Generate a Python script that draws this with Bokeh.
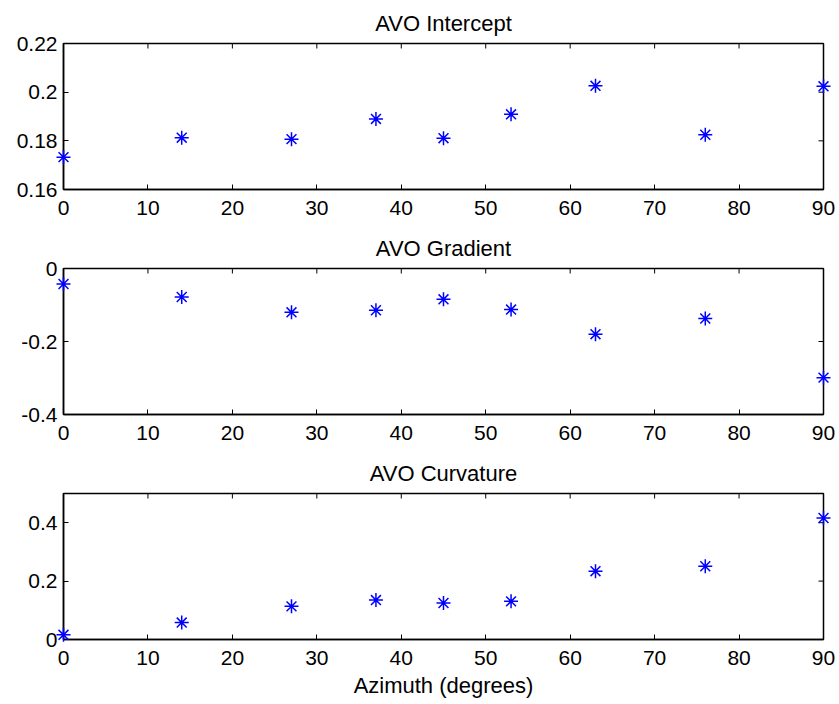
import math

from bokeh.plotting import figure
from bokeh.layouts import column
from bokeh.models import LinearAxis, FixedTicker, Range1d, CustomJSTickFormatter
from bokeh.embed import file_html
from bokeh.resources import INLINE

# Azimuthal AVO attributes
azimuth = [0, 14, 27, 37, 45, 53, 63, 76, 90]
intercept = [0.1733, 0.1813, 0.1807, 0.1890, 0.1811, 0.1909, 0.2026, 0.1825, 0.2024]
gradient = [-0.0425, -0.078, -0.120, -0.1145, -0.0845, -0.1126, -0.180, -0.137, -0.299]
curvature = [0.016, 0.058, 0.1135, 0.135, 0.125, 0.1306, 0.234, 0.251, 0.416]

x_ticks = [0, 10, 20, 30, 40, 50, 60, 70, 80, 90]
intercept_ticks = [0.16, 0.18, 0.2, 0.22]
gradient_ticks = [-0.4, -0.2, 0]
curvature_ticks = [0, 0.2, 0.4]

X0, X1 = 0, 90
FONT = "Liberation Sans"
TICK_SIZE = "21px"
TEXT_SIZE = "22px"


def style_axis(ax):
    ax.axis_line_color = "black"
    ax.axis_line_width = 1.5
    ax.major_tick_in = 5
    ax.major_tick_out = 0
    ax.minor_tick_in = 0
    ax.minor_tick_out = 0
    ax.major_tick_line_color = "black"
    ax.major_tick_line_width = 1
    ax.formatter = CustomJSTickFormatter(code="return tick.toString();")
    ax.major_label_text_font = FONT
    ax.major_label_text_font_size = TICK_SIZE
    ax.major_label_text_color = "black"


def panel(title, values, y0, y1, yticks, height, bottom, xlabel=None):
    p = figure(width=839, height=height,
               x_range=Range1d(X0, X1), y_range=Range1d(y0, y1),
               x_axis_type=None, y_axis_type=None,
               output_backend="svg", toolbar_location=None,
               min_border_left=63, min_border_right=16,
               min_border_top=42, min_border_bottom=bottom)
    p.grid.visible = False
    p.outline_line_color = "black"
    p.outline_line_width = 1.5
    p.background_fill_color = "white"
    p.border_fill_color = "white"

    xb = LinearAxis(ticker=FixedTicker(ticks=x_ticks))
    style_axis(xb)
    xb.major_label_standoff = 11
    if xlabel:
        xb.axis_label = xlabel
        xb.axis_label_text_font = FONT
        xb.axis_label_text_font_size = TEXT_SIZE
        xb.axis_label_text_font_style = "normal"
        xb.axis_label_text_color = "black"
        xb.axis_label_standoff = 5
    p.add_layout(xb, "below")

    yl = LinearAxis(ticker=FixedTicker(ticks=yticks))
    style_axis(yl)
    yl.major_label_standoff = 6
    p.add_layout(yl, "left")

    # mirrored inward ticks on the top and right edges of the box
    p.ray(x=x_ticks, y=[y1] * len(x_ticks), length=5, length_units="screen",
          angle=-math.pi / 2, line_color="black", line_width=1)
    p.ray(x=[X1] * len(yticks), y=yticks, length=5, length_units="screen",
          angle=math.pi, line_color="black", line_width=1)

    p.title.text = title
    p.title.align = "center"
    p.title.text_font = FONT
    p.title.text_font_size = TEXT_SIZE
    p.title.text_font_style = "normal"
    p.title.text_color = "black"
    p.title.text_line_height = 0.9
    p.title.standoff = 16

    p.scatter(azimuth, values, marker="asterisk", size=14,
              line_color="#0000ff", line_width=1.5, level="overlay")
    return p


p1 = panel("AVO Intercept", intercept, 0.16, 0.22, intercept_ticks, 225, 36)
p2 = panel("AVO Gradient", gradient, -0.4, 0.0, gradient_ticks, 225, 36)
p3 = panel("AVO Curvature", curvature, 0.0, 0.5, curvature_ticks, 254, 65,
           xlabel="Azimuth (degrees)")

layout = column(p1, p2, p3, spacing=0)

open("out.html", "w").write(file_html(layout, INLINE))
